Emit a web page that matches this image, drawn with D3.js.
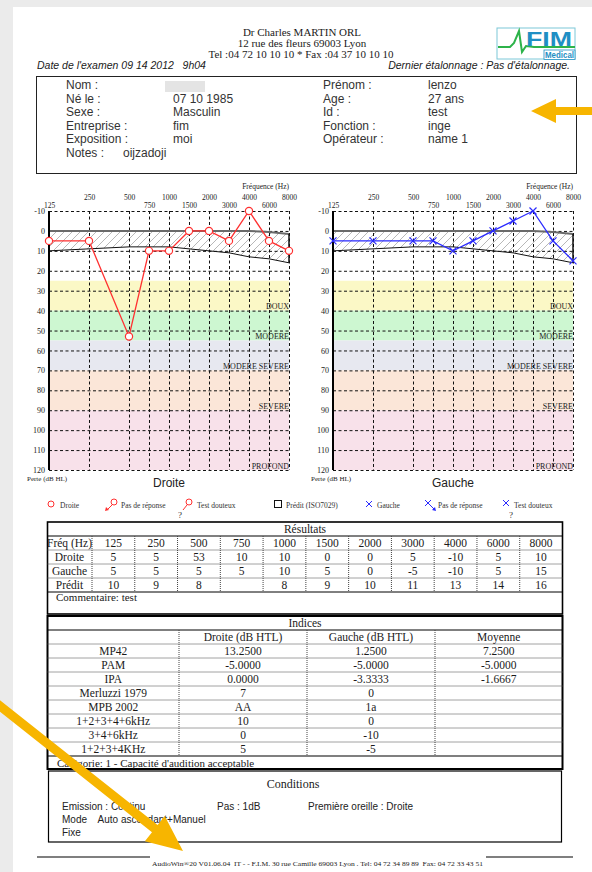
<!DOCTYPE html>
<html>
<head>
<meta charset="utf-8">
<script src="https://cdn.jsdelivr.net/npm/d3@7"></script>
<style>
  body { margin: 0; background: #fff; }
  svg { display: block; }
  text { white-space: pre; }
</style>
</head>
<body>
<div id="page"></div>
<script>
// ---- data ----
var freqs = [125, 250, 500, 750, 1000, 1500, 2000, 3000, 4000, 6000, 8000];
var droite = [5, 5, 53, 10, 10, 0, 0, 5, -10, 5, 10];
var gauche = [5, 5, 5, 5, 10, 5, 0, -5, -10, 5, 15];
var predit = [10, 9, 8, null, 8, 9, 10, 11, 13, 14, 16];
var normTop = [0, 0, 0, null, 0, 0, 0, 0, 0, 0.5, 1.5];
var dbTicks = [-10, 0, 10, 20, 30, 40, 50, 60, 70, 80, 90, 100, 110, 120];
var zoneFrom = [25, 40, 55, 70, 90];
var zoneTo = [40, 55, 70, 90, 120];
var zoneNames = ["DOUX", "MODERE", "MODERE SEVERE", "SEVERE", "PROFOND"];

var infoLabelsL = ["Nom :", "Né le :", "Sexe :", "Entreprise :", "Exposition :"];
var infoValuesL = ["", "07 10 1985", "Masculin", "fim", "moi"];
var infoLabelsR = ["Prénom :", "Age :", "Id :", "Fonction :", "Opérateur :"];
var infoValuesR = ["lenzo", "27 ans", "test", "inge", "name 1"];

var resultRows = ["Fréq (Hz)", "Droite", "Gauche", "Prédit"];

var indicesHead = ["", "Droite (dB HTL)", "Gauche (dB HTL)", "Moyenne"];
var indicesRows = ["MP42", "PAM", "IPA", "Merluzzi 1979", "MPB 2002", "1+2+3+4+6kHz", "3+4+6kHz", "1+2+3+4KHz"];
var indicesDroite = ["13.2500", "-5.0000", "0.0000", "7", "AA", "10", "0", "5"];
var indicesGauche = ["1.2500", "-5.0000", "-3.3333", "0", "1a", "0", "-10", "-5"];
var indicesMoyenne = ["7.2500", "-5.0000", "-1.6667", "", "", "", "", ""];

// ---- styles ----
var zoneColors = ["#fbf8c6", "#cdf7d1", "#e7e8f0", "#fbe6d8", "#f8e1ea"];
var SERIF = "'Liberation Serif', 'Times New Roman', serif";
var SANS = "'Liberation Sans', Arial, sans-serif";
var RED = "#ff3030", BLUE = "#2a2aff", YELLOW = "#f7b500";

var W = 592, H = 872;
var svg = d3.select("#page").append("svg").attr("width", W).attr("height", H);

var defs = svg.append("defs");
defs.append("pattern")
  .attr("id", "hatch")
  .attr("patternUnits", "userSpaceOnUse")
  .attr("width", 8).attr("height", 8)
  .append("path")
  .attr("d", "M-1,1 l2,-2 M0,8 l8,-8 M7,9 l2,-2")
  .attr("stroke", "#9a9a9a").attr("stroke-width", 0.7);

// page + shadow
svg.append("rect").attr("width", W).attr("height", H).attr("fill", "#ebebeb");
svg.append("rect").attr("x", 13).attr("y", 7).attr("width", W - 13).attr("height", H - 7).attr("fill", "#fff");

function txt(x, y, s, size, font, anchor) {
  return svg.append("text")
    .attr("x", x).attr("y", y)
    .attr("font-family", font || SERIF)
    .attr("font-size", size)
    .attr("text-anchor", anchor || "start")
    .attr("fill", "#1a1a1a")
    .text(s);
}

// ---- header ----
txt(302, 36, "Dr Charles MARTIN ORL", 11, SERIF, "middle");
txt(302, 47, "12 rue des fleurs 69003 Lyon", 11, SERIF, "middle");
txt(301, 58, "Tel :04 72 10 10 10 * Fax :04 37 10 10 10", 11, SERIF, "middle");
txt(37, 69, "Date de l'examen 09 14 2012   9h04", 10.5, SANS).attr("font-style", "italic");
txt(570, 69, "Dernier étalonnage : Pas d'étalonnage.", 10.5, SANS, "end").attr("font-style", "italic");

// logo
var logo = svg.append("g");
logo.append("rect").attr("x", 497).attr("y", 28).attr("width", 78).attr("height", 31)
  .attr("fill", "none").attr("stroke", "#7cc8d8").attr("stroke-width", 1);
logo.append("path")
  .attr("d", "M498,47 L510,47 L514,43 L519,31 L522,52 L526,46 L534,47 L575,47")
  .attr("fill", "none").attr("stroke", "#2db34a").attr("stroke-width", 2);
logo.append("text").attr("x", 572).attr("y", 46).attr("text-anchor", "end")
  .attr("font-family", SANS).attr("font-weight", "bold").attr("font-size", 20)
  .attr("fill", "#1f8fc4").attr("textLength", 46).attr("lengthAdjust", "spacingAndGlyphs").text("FIM");
logo.append("rect").attr("x", 544).attr("y", 50).attr("width", 31).attr("height", 9.5).attr("fill", "#fff")
  .attr("stroke", "#1f8fc4").attr("stroke-width", 0.8);
logo.append("text").attr("x", 574).attr("y", 58).attr("text-anchor", "end")
  .attr("font-family", SANS).attr("font-weight", "bold").attr("font-size", 8.5)
  .attr("fill", "#1f8fc4").attr("textLength", 29).attr("lengthAdjust", "spacingAndGlyphs").text("Medical");

// ---- patient box ----
svg.append("rect").attr("x", 36.5).attr("y", 76.5).attr("width", 540).attr("height", 97)
  .attr("fill", "none").attr("stroke", "#222").attr("stroke-width", 1);
infoLabelsL.forEach(function (d, i) {
  var yy = 89 + i * 13.6;
  txt(66, yy, d, 12, SANS).attr("fill", "#333");
  txt(173, yy, infoValuesL[i], 12, SANS).attr("fill", "#333");
  txt(323, yy, infoLabelsR[i], 12, SANS).attr("fill", "#333");
  txt(428, yy, infoValuesR[i], 12, SANS).attr("fill", "#333");
});
// blurred name
svg.append("rect").attr("x", 165).attr("y", 81).attr("width", 40).attr("height", 11).attr("fill", "#e4e4e4");
txt(66, 157, "Notes :", 12, SANS).attr("fill", "#333");
txt(123, 157, "oijzadoji", 12, SANS).attr("fill", "#333");

// ---- audiograms ----
var freqIndex = freqs.map(function (f) { return Math.round(2 * Math.log2(f / 125)); });

function drawAudiogram(x0, values, ear, title) {
  var x = d3.scaleLinear().domain([0, 12]).range([x0, x0 + 240]);
  var y = d3.scaleLinear().domain([-10, 120]).range([211, 470]);
  var fx = function (i) { return x(freqIndex[i]); };
  var g = svg.append("g");

  // hearing loss zones
  g.selectAll(".zone").data(zoneFrom).enter().append("rect")
    .attr("x", x0).attr("width", 240)
    .attr("y", function (d) { return y(d); })
    .attr("height", function (d, i) { return y(zoneTo[i]) - y(d); })
    .attr("fill", function (d, i) { return zoneColors[i]; });

  // normal (predicted) area
  var idx = d3.range(freqs.length).filter(function (i) { return predit[i] != null; });
  g.append("path").datum(idx)
    .attr("d", d3.area()
      .x(fx)
      .y0(function (i) { return y(normTop[i]); })
      .y1(function (i) { return y(predit[i]); }))
    .attr("fill", "url(#hatch)");

  // grid
  g.append("g").attr("transform", "translate(" + x0 + ",0)")
    .call(d3.axisLeft(y).tickValues(dbTicks).tickSize(-240).tickFormat(""))
    .call(function (a) { a.select(".domain").remove(); })
    .selectAll("line").attr("stroke", "#111").attr("stroke-dasharray", "3,2.5");
  g.append("g").attr("transform", "translate(0,211)")
    .call(d3.axisBottom(x).tickValues(freqIndex).tickSize(259).tickFormat(""))
    .call(function (a) { a.select(".domain").remove(); })
    .selectAll("line").attr("stroke", "#111").attr("stroke-dasharray", "3,2.5");

  // zone labels
  g.selectAll(".zl").data(zoneTo).enter().append("text")
    .attr("x", x0 + 240).attr("y", function (d) { return y(d) - 1.5; })
    .attr("text-anchor", "end").attr("font-family", SERIF).attr("font-size", 8)
    .attr("fill", "#222")
    .text(function (d, i) { return zoneNames[i]; });

  // predicted boundaries
  g.append("path").datum(idx)
    .attr("d", d3.line().x(fx).y(function (i) { return y(normTop[i]); }))
    .attr("fill", "none").attr("stroke", "#6a6a6a").attr("stroke-width", 2);
  g.append("path").datum(idx)
    .attr("d", d3.line().x(fx).y(function (i) { return y(predit[i]); }))
    .attr("fill", "none").attr("stroke", "#111").attr("stroke-width", 1);
  var last = freqs.length - 1;
  g.append("line")
    .attr("x1", fx(last)).attr("x2", fx(last))
    .attr("y1", y(normTop[last])).attr("y2", y(predit[last]))
    .attr("stroke", "#111").attr("stroke-width", 1.5);

  // left axis line
  g.append("line").attr("x1", x0).attr("x2", x0).attr("y1", y(-10)).attr("y2", y(120))
    .attr("stroke", "#000").attr("stroke-width", 2);

  // y tick labels
  g.append("g").attr("transform", "translate(" + (x0 - 2) + ",0)")
    .call(d3.axisLeft(y).tickValues(dbTicks).tickSize(0).tickPadding(2).tickFormat(String))
    .call(function (a) { a.select(".domain").remove(); })
    .selectAll("text").attr("font-family", SERIF).attr("font-size", 8).attr("fill", "#222");

  // frequency labels, two rows
  var octave = freqIndex.filter(function (d) { return d % 2 === 0 && d > 0; });
  var half = freqIndex.filter(function (d) { return d % 2 === 1 || d === 0; });
  var label = function (k) { return freqs[freqIndex.indexOf(k)]; };
  [[octave, 200], [half, 208]].forEach(function (row) {
    g.append("g").attr("transform", "translate(0," + row[1] + ")")
      .call(d3.axisTop(x).tickValues(row[0]).tickSize(0).tickPadding(0).tickFormat(label))
      .call(function (a) { a.select(".domain").remove(); })
      .selectAll("text").attr("font-family", SERIF).attr("font-size", 7.5).attr("fill", "#222");
  });
  g.append("text").attr("x", x0 + 240).attr("y", 189).attr("text-anchor", "end")
    .attr("font-family", SERIF).attr("font-size", 7.5).attr("fill", "#222").text("Fréquence (Hz)");

  // data
  var color = ear === "R" ? RED : BLUE;
  g.append("path").datum(d3.range(values.length))
    .attr("d", d3.line().x(fx).y(function (i) { return y(values[i]); }))
    .attr("fill", "none").attr("stroke", color).attr("stroke-width", 1.3);
  if (ear === "R") {
    g.selectAll(".pt").data(values).enter().append("circle")
      .attr("cx", function (d, i) { return fx(i); })
      .attr("cy", function (d) { return y(d); })
      .attr("r", 3.6).attr("fill", "#fff").attr("stroke", color).attr("stroke-width", 1.2);
  } else {
    g.selectAll(".pt").data(values).enter().append("path")
      .attr("d", function (d, i) {
        var cx = fx(i), cy = y(d), s = 3.5;
        return "M" + (cx - s) + "," + (cy - s) + "L" + (cx + s) + "," + (cy + s) +
               "M" + (cx - s) + "," + (cy + s) + "L" + (cx + s) + "," + (cy - s);
      })
      .attr("stroke", color).attr("stroke-width", 1.2).attr("fill", "none");
  }

  g.append("text").attr("x", x0 - 22).attr("y", 481)
    .attr("font-family", SERIF).attr("font-size", 7).attr("fill", "#222").text("Perte (dB HL)");
  g.append("text").attr("x", x0 + 120).attr("y", 487).attr("text-anchor", "middle")
    .attr("font-family", SANS).attr("font-size", 12).attr("fill", "#222").text(title);
}

drawAudiogram(49, droite, "R", "Droite");
drawAudiogram(333, gauche, "L", "Gauche");

// ---- legend ----
var lg = svg.append("g");
function ltxt(x, s) {
  lg.append("text").attr("x", x).attr("y", 508).attr("font-family", SERIF)
    .attr("font-size", 7.5).attr("fill", "#333").text(s);
}
function xMark(cx, cy, s) {
  return "M" + (cx - s) + "," + (cy - s) + "L" + (cx + s) + "," + (cy + s) +
         "M" + (cx - s) + "," + (cy + s) + "L" + (cx + s) + "," + (cy - s);
}
lg.append("circle").attr("cx", 51).attr("cy", 504).attr("r", 3).attr("fill", "#fff").attr("stroke", RED);
ltxt(60, "Droite");
lg.append("circle").attr("cx", 114).attr("cy", 502).attr("r", 3).attr("fill", "#fff").attr("stroke", RED);
lg.append("line").attr("x1", 112).attr("y1", 505).attr("x2", 108).attr("y2", 509).attr("stroke", RED);
lg.append("path").attr("d", "M105,511 L106,507 L109,510 Z").attr("fill", RED);
ltxt(121, "Pas de réponse");
lg.append("circle").attr("cx", 189).attr("cy", 502).attr("r", 3).attr("fill", "#fff").attr("stroke", RED);
lg.append("line").attr("x1", 187).attr("y1", 505).attr("x2", 183).attr("y2", 510).attr("stroke", RED);
lg.append("text").attr("x", 180).attr("y", 518).attr("text-anchor", "middle").attr("font-family", SERIF)
  .attr("font-size", 9).attr("fill", "#333").text("?");
ltxt(197, "Test douteux");
lg.append("rect").attr("x", 274.5).attr("y", 500.5).attr("width", 7).attr("height", 7)
  .attr("fill", "#fff").attr("stroke", "#111");
ltxt(286, "Prédit (ISO7029)");
lg.append("path").attr("d", xMark(369, 504, 3)).attr("stroke", BLUE);
ltxt(377, "Gauche");
lg.append("path").attr("d", xMark(428, 503, 3)).attr("stroke", BLUE);
lg.append("line").attr("x1", 430).attr("y1", 505).attr("x2", 434).attr("y2", 509).attr("stroke", BLUE);
lg.append("path").attr("d", "M436,511 L435,507 L432,510 Z").attr("fill", BLUE);
ltxt(438, "Pas de réponse");
lg.append("path").attr("d", xMark(506, 503, 3)).attr("stroke", BLUE);
lg.append("text").attr("x", 511).attr("y", 518).attr("text-anchor", "middle").attr("font-family", SERIF)
  .attr("font-size", 9).attr("fill", "#333").text("?");
ltxt(514, "Test douteux");

// ---- tables ----
var TX0 = 47.5, TX1 = 562.5, ROW = 14;
function hline(x1, x2, yy, w, dotted) {
  var l = svg.append("line").attr("x1", x1).attr("x2", x2).attr("y1", yy).attr("y2", yy)
    .attr("stroke", dotted ? "#444" : "#000").attr("stroke-width", w);
  if (dotted) l.attr("stroke-dasharray", "1,1");
}
function vline(xx, y1, y2, w, dotted) {
  var l = svg.append("line").attr("x1", xx).attr("x2", xx).attr("y1", y1).attr("y2", y2)
    .attr("stroke", dotted ? "#444" : "#000").attr("stroke-width", w);
  if (dotted) l.attr("stroke-dasharray", "1,1");
}
function cell(x, yTop, s, anchor) {
  return txt(x, yTop + 11, s, 11.5, SERIF, anchor || "middle");
}

// Résultats
var rTop = 522;
var colX = d3.scaleBand().domain(freqs).range([92, TX1]);
svg.append("rect").attr("x", TX0).attr("y", rTop).attr("width", TX1 - TX0).attr("height", 92)
  .attr("fill", "none").attr("stroke", "#000").attr("stroke-width", 1.6);
hline(TX0, TX1, rTop + ROW, 1);
cell((TX0 + TX1) / 2, rTop, "Résultats");
[droite, gauche].forEach(function (d, k) { hline(TX0, TX1, rTop + ROW * (k + 2), 1, true); });
hline(TX0, TX1, rTop + ROW * 4, 1, true);
hline(TX0, TX1, rTop + ROW * 5, 1);
freqs.forEach(function (f) { vline(colX(f), rTop + ROW, rTop + ROW * 5, 1, true); });
var resultValues = [freqs, droite, gauche, predit];
resultRows.forEach(function (name, r) {
  var yTop = rTop + ROW * (r + 1);
  cell(69.5, yTop, name);
  freqs.forEach(function (f, i) {
    var v = resultValues[r][i];
    if (v != null) cell(colX(f) + colX.bandwidth() / 2, yTop, v);
  });
});
txt(56, 601, "Commentaire: test", 11, SERIF);

// Indices
var iTop = 616;
var iCols = [TX0, 179, 307, 435, TX1];
svg.append("rect").attr("x", TX0).attr("y", iTop).attr("width", TX1 - TX0).attr("height", 153)
  .attr("fill", "none").attr("stroke", "#000").attr("stroke-width", 2);
hline(TX0, TX1, iTop + ROW, 1);
cell((TX0 + TX1) / 2, iTop, "Indices");
indicesRows.forEach(function (d, r) { hline(TX0, TX1, iTop + ROW * (r + 2), 1, true); });
hline(TX0, TX1, iTop + ROW * 10, 1.2);
[1, 2, 3].forEach(function (c) { vline(iCols[c], iTop + ROW, iTop + ROW * 10, 1, true); });
var mid = function (c) { return (iCols[c] + iCols[c + 1]) / 2; };
indicesHead.forEach(function (h, c) { if (h) cell(mid(c), iTop + ROW, h); });
indicesRows.forEach(function (name, r) {
  var yTop = iTop + ROW * (r + 2);
  cell(mid(0), yTop, name);
  cell(mid(1), yTop, indicesDroite[r]);
  cell(mid(2), yTop, indicesGauche[r]);
  if (indicesMoyenne[r]) cell(mid(3), yTop, indicesMoyenne[r]);
});
txt(57, iTop + ROW * 10 + 11, "Catégorie: 1 - Capacité d'audition acceptable", 11, SERIF);

// Conditions
svg.append("rect").attr("x", 48.5).attr("y", 771).attr("width", 513).attr("height", 71)
  .attr("fill", "none").attr("stroke", "#000").attr("stroke-width", 1.2);
txt(293, 788, "Conditions", 12, SERIF, "middle");
txt(62, 810, "Emission : Continu", 10, SANS).attr("fill", "#222");
txt(217, 810, "Pas : 1dB", 10, SANS).attr("fill", "#222");
txt(308, 810, "Première oreille : Droite", 10, SANS).attr("fill", "#222");
txt(62, 823, "Mode    Auto ascendant+Manuel", 10, SANS).attr("fill", "#222");
txt(62, 836, "Fixe", 10, SANS).attr("fill", "#222");

// footer
hline(37, 150, 857, 1.2);
hline(486, 573, 857, 1.2);
txt(152, 866, "AudioWin®20 V01.06.04  IT - - F.I.M. 30 rue Camille 69003 Lyon . Tel: 04 72 34 89 89  Fax: 04 72 33 43 51", 6.5, SERIF)
  .attr("textLength", 331).attr("lengthAdjust", "spacingAndGlyphs");

// ---- yellow annotation arrows ----
function arrow(tx, ty, angle, len, headLen, headW, shaftW) {
  var pts = [[0, 0], [-headLen, -headW], [-headLen, -shaftW], [-len, -shaftW],
             [-len, shaftW], [-headLen, shaftW], [-headLen, headW]];
  svg.append("polygon")
    .attr("points", pts.map(function (p) { return p.join(","); }).join(" "))
    .attr("transform", "translate(" + tx + "," + ty + ") rotate(" + angle + ")")
    .attr("fill", YELLOW);
}
arrow(531, 111, 180, 70, 25, 12, 4);
arrow(183, 851, Math.atan2(149, 188) * 180 / Math.PI, 245, 36, 16, 4.5);
</script>
</body>
</html>
